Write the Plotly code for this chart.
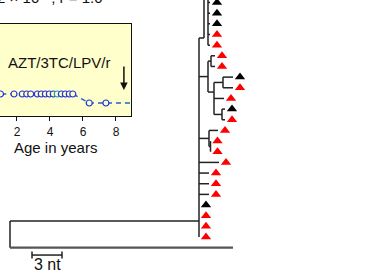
import plotly.graph_objects as go

# ---------------- Inset: viral load vs age ----------------
age_years = [0.5, 1.0, 1.82, 2.32, 2.59, 2.83, 3.23, 3.47, 3.72, 3.96, 4.20, 4.44,
             4.69, 4.93, 5.17, 5.38, 6.38, 7.39, 9.6]
log_vl = [1.7, 1.7, 1.7, 1.7, 1.7, 1.7, 1.7, 1.7, 1.7, 1.7, 1.7, 1.7,
          1.7, 1.7, 1.7, 1.7, 1.3, 1.3, 1.3]
marker_cols = ["#2233dd"] * 11 + ["#1aa0a8"] + ["#2233dd"] * 7
regimen_label = "AZT/3TC/LPV/r"
regimen_switch_age = 8.48
age_ticks = [2, 4, 6, 8]
top_text = "k = 2.2 × 10<sup>−3</sup>, r = 1.0"

# ---------------- Tree (x in nt, y in tip rows) ----------------
tip_rows = list(range(23))
tip_end_nt = [20.0, 20.0, 20.0, 20.0, 20.0, 20.5, 20.5, 22.3, 22.3, 21.4, 21.5, 21.5,
              20.8, 20.05, 20.05, 20.9, 19.9, 19.9, 19.9, 18.9, 18.9, 18.9, 18.9]
tip_black = [1, 1, 1, 0, 0, 0, 0, 1, 0, 0, 1, 0, 0, 0, 0, 0, 0, 0, 0, 1, 0, 0, 0]

# horizontal branches: start nt, end nt, row
h_start = [0, 18.9, 19.8, 19.8, 19.8, 19.8, 19.8, 20.1, 20.1, 19.8, 20.4, 21.3, 21.3,
           20.4, 20.4, 21.2, 21.2, 18.9, 18.9, 19.9, 19.9, 18.9, 18.9, 18.9, 18.9, 19.8]
h_end = [18.9, 19.4, 20.0, 20.0, 20.0, 20.0, 20.0, 20.5, 20.5, 20.1, 21.3, 22.3, 22.3,
         21.4, 21.2, 21.5, 21.5, 19.8, 19.9, 20.8, 20.05, 20.9, 19.9, 19.9, 19.9, 20.4]
h_row = [20.5, 3.33, 0, 1, 2, 3, 4, 5, 6, 5.5, 7.5, 7, 8,
         9, 10.5, 10, 11, 6.95, 12.75, 12, 13.5, 15, 16, 17, 18, 8.4]

# vertical connectors: x nt, row top, row bottom
v_x = [0, 18.9, 19.4, 19.8, 20.1, 19.8, 20.4, 21.3, 21.2, 19.9, 20.05]
v_top = [20.5, 3.33, -2, -2, 5, 5.5, 7.5, 7, 10, 12, 13]
v_bot = [23, 22, 3.33, 4, 6, 8.4, 10.5, 8, 11, 13.5, 14]

outgroup_len_nt = 22.3
outgroup_row = 23
scale_start_nt = 2.2
scale_len_nt = 3
scale_row = 23.69
scale_label = "3 nt"
marker_offset_nt = 0.7

FONT = "Liberation Sans, Arial, sans-serif"
fig = go.Figure()

# inset series
fig.add_trace(go.Scatter(
    x=age_years, y=log_vl, mode="lines", xaxis="x", yaxis="y",
    line=dict(color="#1f63cf", width=1.5, dash="5px,4px"), showlegend=False))
fig.add_trace(go.Scatter(
    x=age_years, y=log_vl, mode="markers", xaxis="x", yaxis="y",
    marker=dict(symbol="circle", size=6, color="#ffffcc",
                line=dict(color=marker_cols, width=1.2)), showlegend=False))

# tree lines
lx, ly = [], []
for a, b, r in zip(h_start, h_end, h_row):
    lx += [a, b, None]
    ly += [r, r, None]
for x, t, b in zip(v_x, v_top, v_bot):
    lx += [x, x, None]
    ly += [t, b, None]
fig.add_trace(go.Scatter(x=lx, y=ly, mode="lines", xaxis="x2", yaxis="y2",
                         line=dict(color="#222222", width=1.5), showlegend=False))
fig.add_trace(go.Scatter(x=[0, outgroup_len_nt], y=[outgroup_row, outgroup_row], mode="lines",
                         xaxis="x2", yaxis="y2", line=dict(color="#555555", width=2.2),
                         showlegend=False))
# tips
fig.add_trace(go.Scatter(
    x=[e + marker_offset_nt for e in tip_end_nt], y=tip_rows, mode="markers",
    xaxis="x2", yaxis="y2",
    marker=dict(symbol="triangle-up", size=9,
                color=["#000000" if k else "#ff0000" for k in tip_black]),
    showlegend=False))
# scale bar
fig.add_trace(go.Scatter(
    x=[scale_start_nt, scale_start_nt + scale_len_nt], y=[scale_row, scale_row],
    mode="lines+markers", xaxis="x2", yaxis="y2",
    line=dict(color="#222222", width=1.5),
    marker=dict(symbol="line-ns", size=5, line=dict(color="#222222", width=1.5)),
    showlegend=False))

fig.update_layout(
    width=373, height=272, margin=dict(l=0, r=0, t=0, b=0),
    paper_bgcolor="white", plot_bgcolor="rgba(0,0,0,0)",
    font=dict(family=FONT, color="#111111"),
    xaxis=dict(domain=[0, 131 / 373], range=[0.97, 8.91], tickvals=age_ticks,
               ticks="outside", ticklen=4, tickwidth=1.2, tickcolor="#111",
               showline=True, mirror=True, linecolor="#111", linewidth=1.2,
               showgrid=False, zeroline=False, tickfont=dict(size=12), anchor="y"),
    yaxis=dict(domain=[1 - 116 / 272, 1 - 24 / 272], range=[0.722, 4.81], side="right",
               showline=True, linecolor="#111", linewidth=1.2, showticklabels=False,
               ticks="", showgrid=False, zeroline=False, anchor="x"),
    xaxis2=dict(domain=[0, 1], range=[-1, 36.3], visible=False, anchor="y2"),
    yaxis2=dict(domain=[0, 1], range=[25.28, -0.2345], visible=False, anchor="x2"),
    shapes=[dict(type="rect", xref="x domain", yref="y domain", x0=0, x1=1, y0=0, y1=1,
                 fillcolor="#ffffcc", line=dict(width=0), layer="below")],
    annotations=[
        dict(text=regimen_label, x=4.6, y=3.08, xref="x", yref="y", showarrow=False,
             xanchor="center", font=dict(size=15)),
        dict(x=regimen_switch_age, y=1.88, ax=regimen_switch_age, ay=2.99,
             xref="x", yref="y", axref="x", ayref="y", text="", showarrow=True,
             arrowhead=2, arrowsize=1, arrowwidth=1.5, arrowcolor="#111"),
        dict(text="Age in years", x=56 / 373, y=1 - 147 / 272, xref="paper", yref="paper",
             xanchor="center", yanchor="middle", showarrow=False, font=dict(size=15)),
        dict(text=top_text, x=105 / 373, y=1 - 8 / 272, xref="paper", yref="paper",
             xanchor="right", yanchor="bottom", showarrow=False, font=dict(size=15)),
        dict(text=scale_label, x=scale_start_nt + scale_len_nt / 2, y=24.62,
             xref="x2", yref="y2", xanchor="center", showarrow=False, font=dict(size=16)),
    ],
)

fig.write_html("out.html", config={"displayModeBar": False},
               post_script="document.body.style.margin='0';document.body.style.overflow='hidden';")
